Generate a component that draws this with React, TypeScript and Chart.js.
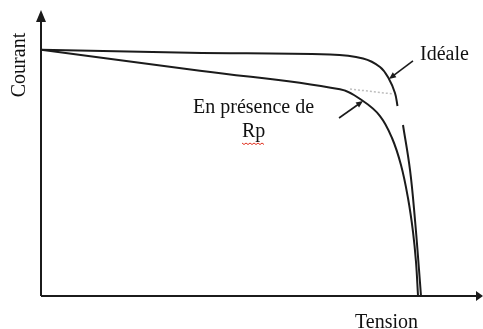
import React, { useEffect, useRef } from "react";
import { Chart, registerables } from "chart.js";

Chart.register(...registerables);

// Caractéristique I(V) d'une cellule : cas idéal et en présence de Rp
const idealVoltage = [0, 0.236, 0.4577, 0.51, 0.5369, 0.5511, 0.5606, 0.5646, 0.568, 0.5733, 0.5844, 0.5923, 0.5987, 0.6018];
const idealCurrent = [2.97, 2.935, 2.913, 2.865, 2.762, 2.618, 2.449, 2.292, null, 2.063, 1.52, 0.917, 0.314, 0];

const rpVoltage = [0, 0.2518, 0.4735, 0.51, 0.5369, 0.5559, 0.5701, 0.5812, 0.5892, 0.5939, 0.5971];
const rpCurrent = [2.97, 2.718, 2.493, 2.352, 2.171, 1.906, 1.58, 1.182, 0.772, 0.41, 0];

// trait de crayon pâle près du coude
const traceVoltage = [0.4894, 0.5575];
const traceCurrent = [2.497, 2.437];

const axisLabels = { x: "Tension", y: "Courant" };
const curveLabels = { ideal: "Idéale", rp1: "En présence de", rp2: "Rp" };
const idealArrowIndex = 5;
const rpArrowIndex = 3;

const ink = "#1b1b1b";
const serif = '"Liberation Serif", "Times New Roman", serif';

function toPoints(xs: number[], ys: (number | null)[]) {
  return xs.map((x, i) => ({ x, y: ys[i] }));
}

function arrow(ctx: CanvasRenderingContext2D, x0: number, y0: number, x1: number, y1: number) {
  const ang = Math.atan2(y1 - y0, x1 - x0);
  ctx.beginPath();
  ctx.moveTo(x0, y0);
  ctx.lineTo(x1 - Math.cos(ang) * 3, y1 - Math.sin(ang) * 3);
  ctx.stroke();
  const len = 7;
  const w = 3;
  ctx.beginPath();
  ctx.moveTo(x1, y1);
  ctx.lineTo(x1 - len * Math.cos(ang) + w * Math.sin(ang), y1 - len * Math.sin(ang) - w * Math.cos(ang));
  ctx.lineTo(x1 - len * Math.cos(ang) - w * Math.sin(ang), y1 - len * Math.sin(ang) + w * Math.cos(ang));
  ctx.closePath();
  ctx.fill();
}

const sketchPlugin = {
  id: "sketch",
  afterDatasetsDraw(chart: any) {
    const { ctx, chartArea, scales } = chart;
    const { left, right, top, bottom } = chartArea;
    ctx.save();
    ctx.strokeStyle = ink;
    ctx.fillStyle = ink;
    ctx.lineWidth = 2;

    // axes avec flèches
    ctx.beginPath();
    ctx.moveTo(left, bottom);
    ctx.lineTo(left, top + 10);
    ctx.moveTo(left, bottom);
    ctx.lineTo(right - 6, bottom);
    ctx.stroke();
    ctx.beginPath();
    ctx.moveTo(left, top);
    ctx.lineTo(left - 5, top + 12);
    ctx.lineTo(left + 5, top + 12);
    ctx.closePath();
    ctx.fill();
    ctx.beginPath();
    ctx.moveTo(right, bottom);
    ctx.lineTo(right - 7, bottom - 5);
    ctx.lineTo(right - 7, bottom + 5);
    ctx.closePath();
    ctx.fill();

    // flèches de repère vers les courbes
    ctx.lineWidth = 1.6;
    const ix = scales.x.getPixelForValue(idealVoltage[idealArrowIndex]);
    const iy = scales.y.getPixelForValue(idealCurrent[idealArrowIndex] as number);
    arrow(ctx, ix + 24, iy - 18, ix, iy);
    const rx = scales.x.getPixelForValue(rpVoltage[rpArrowIndex]);
    const ry = scales.y.getPixelForValue(rpCurrent[rpArrowIndex]);
    arrow(ctx, rx - 24, ry + 17, rx, ry);

    // textes
    ctx.font = `20px ${serif}`;
    ctx.textBaseline = "alphabetic";
    ctx.textAlign = "left";
    ctx.fillStyle = "#111";
    ctx.fillText(curveLabels.ideal, 420, iy - 19);
    ctx.fillText(curveLabels.rp1, rx - 170, ry + 12);
    const rpX = rx - 121;
    const rpY = ry + 36;
    ctx.fillText(curveLabels.rp2, rpX, rpY);
    const rpW = ctx.measureText(curveLabels.rp2).width;

    // soulignement ondulé sous « Rp »
    ctx.strokeStyle = "#e0301e";
    ctx.lineWidth = 1;
    ctx.beginPath();
    for (let k = 0; k <= rpW; k += 2) {
      const yy = rpY + 6 + (Math.floor(k / 2) % 2 === 0 ? 0 : 1.5);
      if (k === 0) ctx.moveTo(rpX + k, yy);
      else ctx.lineTo(rpX + k, yy);
    }
    ctx.stroke();

    ctx.fillStyle = "#111";
    ctx.textAlign = "left";
    ctx.fillText(axisLabels.x, right - 128, bottom + 32);

    ctx.translate(left - 16, (top + bottom) / 2 - 88);
    ctx.rotate(-Math.PI / 2);
    ctx.textAlign = "center";
    ctx.fillText(axisLabels.y, 0, 0);
    ctx.restore();
  },
};

export default function App() {
  const canvasRef = useRef<HTMLCanvasElement | null>(null);

  useEffect(() => {
    const canvas = canvasRef.current;
    if (!canvas) return;
    const lineStyle = {
      borderColor: ink,
      borderWidth: 2,
      pointRadius: 0,
      fill: false,
      tension: 0.4,
      spanGaps: false,
    };
    const chart = new Chart(canvas, {
      type: "line",
      data: {
        datasets: [
          { label: "Idéale", data: toPoints(idealVoltage, idealCurrent), ...lineStyle },
          { label: "En présence de Rp", data: toPoints(rpVoltage, rpCurrent), ...lineStyle },
          {
            label: "trace",
            data: toPoints(traceVoltage, traceCurrent),
            borderColor: "rgba(110,110,110,0.45)",
            borderWidth: 1.5,
            borderDash: [2, 2],
            pointRadius: 0,
          },
        ],
      },
      options: {
        animation: false,
        responsive: false,
        maintainAspectRatio: false,
        devicePixelRatio: 1,
        layout: { padding: { left: 41, right: 0, top: 10, bottom: 33 } },
        plugins: { legend: { display: false }, tooltip: { enabled: false } },
        scales: {
          x: { type: "linear", min: 0, max: 0.7, display: false },
          y: { type: "linear", min: 0, max: 3.45, display: false },
        },
      },
      plugins: [sketchPlugin],
    });
    return () => chart.destroy();
  }, []);

  return (
    <div style={{ position: "absolute", left: 0, top: 0, width: 483, height: 329, background: "#fff" }}>
      <canvas ref={canvasRef} width={483} height={329} />
    </div>
  );
}
